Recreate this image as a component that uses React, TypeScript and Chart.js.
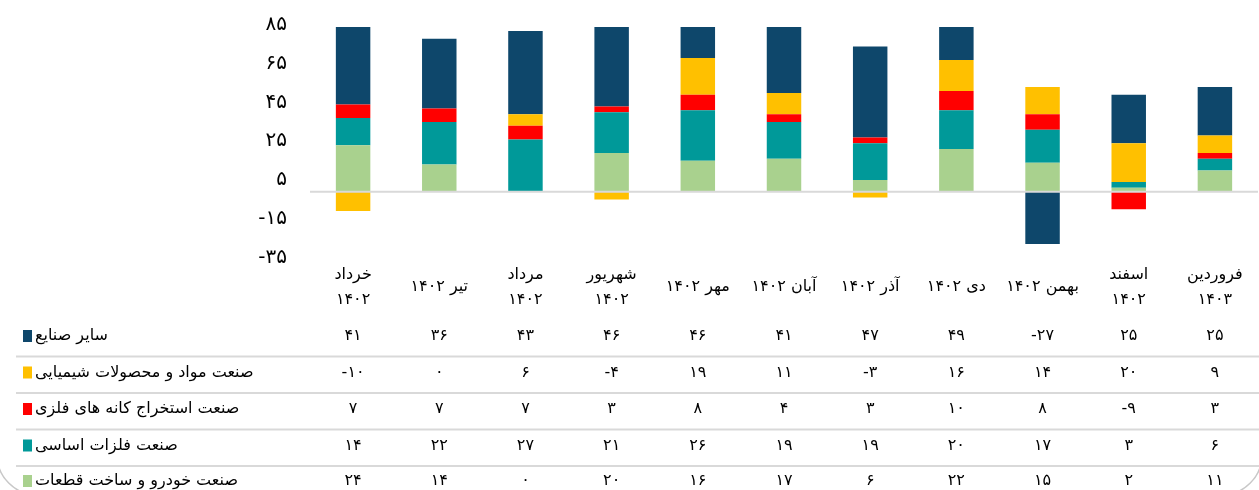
import React, { useEffect, useRef } from "react";
import { Chart, registerables } from "chart.js";

Chart.register(...registerables);

const categories: (string | string[])[] = [
  ["خرداد", "۱۴۰۲"],
  "تیر ۱۴۰۲",
  ["مرداد", "۱۴۰۲"],
  ["شهریور", "۱۴۰۲"],
  "مهر ۱۴۰۲",
  "آبان ۱۴۰۲",
  "آذر ۱۴۰۲",
  "دی ۱۴۰۲",
  "بهمن ۱۴۰۲",
  ["اسفند", "۱۴۰۲"],
  ["فروردین", "۱۴۰۳"],
];

const otherIndustries = [41, 36, 43, 46, 46, 41, 47, 49, -27, 25, 25];
const chemicals = [-10, 0, 6, -4, 19, 11, -3, 16, 14, 20, 9];
const metalMining = [7, 7, 7, 3, 8, 4, 3, 10, 8, -9, 3];
const basicMetals = [14, 22, 27, 21, 26, 19, 19, 20, 17, 3, 6];
const autoParts = [24, 14, 0, 20, 16, 17, 6, 22, 15, 2, 11];

const yTicks = { min: -35, max: 85, step: 20 };

// table rows (top to bottom), also legend
const tableRows = [
  { label: "سایر صنایع", data: otherIndustries, color: "#0E476B" },
  { label: "صنعت مواد و محصولات شیمیایی", data: chemicals, color: "#FFC000" },
  { label: "صنعت استخراج کانه های فلزی", data: metalMining, color: "#FF0000" },
  { label: "صنعت فلزات اساسی", data: basicMetals, color: "#009999" },
  { label: "صنعت خودرو و ساخت قطعات", data: autoParts, color: "#A9D18E" },
];

const FONT = "'DejaVu Sans', sans-serif";

const fa = (n: number) =>
  (n < 0 ? "-" : "") +
  String(Math.abs(n)).replace(/\d/g, (d) => "۰۱۲۳۴۵۶۷۸۹"[Number(d)]);

const ROW_Y = [336, 372.5, 409, 445.5, 481];
const SEP_Y = [356.5, 393, 429.5, 466];

const extras = {
  id: "extras",
  afterDatasetsDraw(chart: any) {
    const { ctx, chartArea, scales } = chart;
    const y0 = scales.y.getPixelForValue(0);
    ctx.save();
    ctx.strokeStyle = "#d9d9d9";
    ctx.lineWidth = 2;
    ctx.beginPath();
    ctx.moveTo(chartArea.left, y0);
    ctx.lineTo(chartArea.right, y0);
    ctx.stroke();
    ctx.restore();
  },
  afterDraw(chart: any) {
    const { ctx, scales, width } = chart;
    ctx.save();
    // separators
    ctx.strokeStyle = "#d9d9d9";
    ctx.lineWidth = 2;
    SEP_Y.forEach((y) => {
      ctx.beginPath();
      ctx.moveTo(16, y);
      ctx.lineTo(width, y);
      ctx.stroke();
    });
    // rows
    tableRows.forEach((row, r) => {
      const y = ROW_Y[r];
      ctx.fillStyle = row.color;
      ctx.fillRect(23, y - 6, 9, 12);
      ctx.fillStyle = "#000";
      ctx.font = `16px ${FONT}`;
      ctx.textAlign = "left";
      ctx.textBaseline = "middle";
      ctx.fillText(row.label, 35, y);
      ctx.font = `16px ${FONT}`;
      ctx.textAlign = "center";
      row.data.forEach((v, i) => {
        ctx.fillText(fa(v), scales.x.getPixelForValue(i), y);
      });
    });
    // rounded frame (bottom corners)
    ctx.strokeStyle = "#c8c8c8";
    ctx.lineWidth = 1.5;
    ctx.beginPath();
    (ctx as any).roundRect(-3, -200, width + 6, 494.8 + 200, 40);
    ctx.stroke();
    ctx.restore();
  },
};

export default function App() {
  const ref = useRef<HTMLCanvasElement>(null);
  useEffect(() => {
    if (!ref.current) return;
    const chart = new Chart(ref.current, {
      type: "bar",
      data: {
        labels: categories,
        datasets: [...tableRows].reverse().map((row) => ({
          label: row.label,
          data: row.data,
          backgroundColor: row.color,
          borderWidth: 0,
          barPercentage: 0.8,
          categoryPercentage: 0.5,
        })),
      },
      options: {
        responsive: false,
        animation: false,
        devicePixelRatio: 1,
        layout: { padding: { top: 27, left: 0, right: 1, bottom: 170.5 } },
        plugins: {
          legend: { display: false },
          tooltip: { enabled: false },
        },
        scales: {
          x: {
            stacked: true,
            grid: { display: false, drawTicks: false },
            border: { display: false },
            ticks: {
              color: "#000",
              font: { family: FONT, size: 16, lineHeight: 1.5625 },
              maxRotation: 0,
              autoSkip: false,
              padding: 15,
              crossAlign: "center",
            },
            afterFit: (s: any) => {
              s.height = 60;
            },
          },
          y: {
            stacked: true,
            min: yTicks.min,
            max: yTicks.max,
            grid: {
              display: true,
              drawOnChartArea: false,
              drawTicks: true,
              tickLength: 19,
              color: "rgba(0,0,0,0)",
            },
            border: { display: false },
            ticks: {
              stepSize: yTicks.step,
              color: "#000",
              font: { family: FONT, size: 20 },
              padding: 4,
              labelOffset: -2,
              callback: (v: any) => fa(Number(v)),
            },
            afterFit: (s: any) => {
              s.width = 310;
            },
          },
        },
      },
      plugins: [extras],
    });
    return () => chart.destroy();
  }, []);
  return (
    <div style={{ position: "absolute", left: 0, top: 0, width: 1259, height: 490, background: "#fff" }}>
      <canvas ref={ref} width={1259} height={490} />
    </div>
  );
}
